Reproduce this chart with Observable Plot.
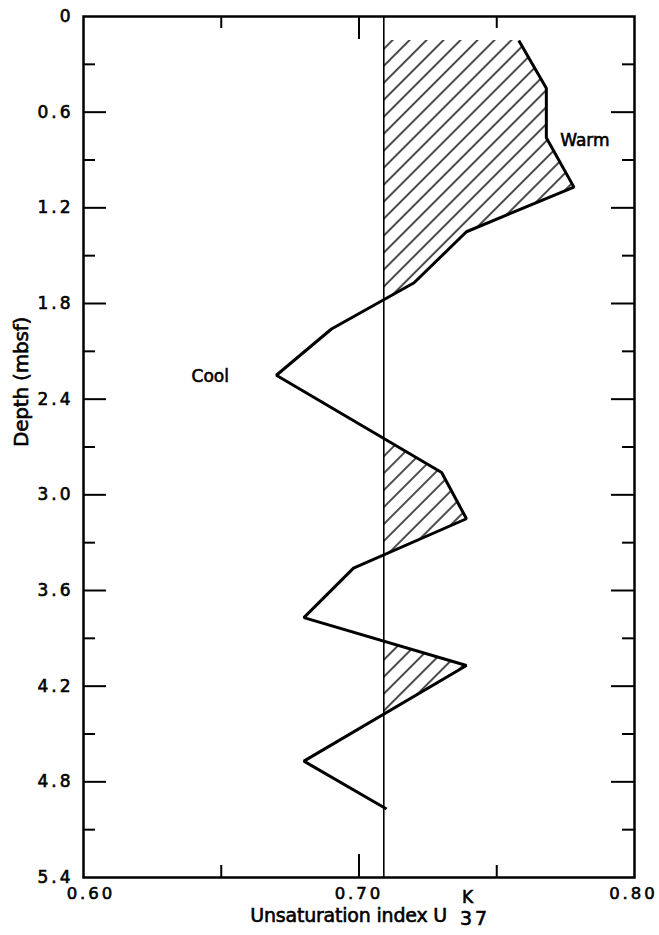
<!DOCTYPE html>
<html>
<head>
<meta charset="utf-8">
<script src="https://cdn.jsdelivr.net/npm/d3@7"></script>
<script src="https://cdn.jsdelivr.net/npm/@observablehq/plot@0.6"></script>
<style>
  html, body { margin: 0; padding: 0; background: #fff; }
  #chart svg { display: block; }
  #chart svg text { stroke: #000; stroke-width: 0.6px; }
</style>
</head>
<body>
<div id="chart"></div>
<script>
// ---- data ----
const depth = [0.15, 0.45, 0.76, 1.07, 1.35, 1.67, 1.96, 2.25, 2.86, 3.15, 3.46, 3.77, 4.07, 4.67, 4.97];
const uk37  = [0.758, 0.768, 0.768, 0.778, 0.739, 0.720, 0.690, 0.670, 0.730, 0.739, 0.698, 0.680, 0.739, 0.680, 0.710];
const referenceU = [0.709];
const xLabels = [0.60, 0.70, 0.80];
const xTicksMajor = [0.70];
const xTicksMinor = [0.65, 0.75];
const yLabels = [0, 0.6, 1.2, 1.8, 2.4, 3.0, 3.6, 4.2, 4.8, 5.4];
const yTicksMajor = [0.6, 1.2, 1.8, 2.4, 3.0, 3.6, 4.2, 4.8];
const yTicksMinor = [0.3, 0.9, 1.5, 2.1, 2.7, 3.3, 3.9, 4.5, 5.1];
const noteText = ["Warm", "Cool"];
const noteU = [0.782, 0.646];
const noteDepth = [0.78, 2.26];
const xTitle = "Unsaturation index U";
const xTitleSup = "K";
const xTitleSub = "37";
const yTitle = "Depth (mbsf)";

// ---- layout ----
const W = 659, H = 935;
const mL = 83, mR = 25, mT = 16, mB = 58;
const FW = W - mL - mR, FH = H - mT - mB;
const MAJ = 23, MIN = 12;

// ---- derived tables ----
const ref = referenceU[0];
const profile = depth.map((d, i) => ({depth: d, u: uk37[i]}));
// add the exact crossings of the reference so the warm fill ends on the line
const warm = [];
for (let i = 0; i < profile.length; i++) {
  const a = profile[i], b = profile[i + 1];
  warm.push(a);
  if (b && (a.u - ref) * (b.u - ref) < 0) {
    const t = (ref - a.u) / (b.u - a.u);
    warm.push({depth: a.depth + t * (b.depth - a.depth), u: ref});
  }
}
const notes = noteText.map((t, i) => ({text: t, u: noteU[i], depth: noteDepth[i]}));
const fmtY = d => d === 0 ? "0" : d.toFixed(1);
const fmtX = d => d.toFixed(2);

const svg = Plot.plot({
  width: W, height: H,
  marginLeft: mL, marginRight: mR, marginTop: mT, marginBottom: mB,
  style: {fontFamily: "DejaVu Sans", fontSize: "17px", background: "white", color: "black"},
  x: {domain: [0.60, 0.80]},
  y: {domain: [0, 5.4], reverse: true},
  marks: [
    Plot.areaX(warm, {y: "depth", x1: () => ref, x2: d => Math.max(d.u, ref), fill: "url(#hatch)", stroke: "none"}),
    Plot.ruleX(referenceU, {x: d => d, stroke: "black", strokeWidth: 1.6}),
    // inward ticks: top / bottom
    Plot.tickX(xTicksMinor, {x: d => d, insetBottom: FH - MIN, strokeWidth: 2}),
    Plot.tickX(xTicksMinor, {x: d => d, insetTop: FH - MIN, strokeWidth: 2}),
    Plot.tickX(xTicksMajor, {x: d => d, insetBottom: FH - MAJ, strokeWidth: 2}),
    Plot.tickX(xTicksMajor, {x: d => d, insetTop: FH - MAJ, strokeWidth: 2}),
    // inward ticks: left / right
    Plot.tickY(yTicksMinor, {y: d => d, insetRight: FW - MIN, strokeWidth: 2}),
    Plot.tickY(yTicksMinor, {y: d => d, insetLeft: FW - MIN, strokeWidth: 2}),
    Plot.tickY(yTicksMajor, {y: d => d, insetRight: FW - MAJ, strokeWidth: 2}),
    Plot.tickY(yTicksMajor, {y: d => d, insetLeft: FW - MAJ, strokeWidth: 2}),
    Plot.frame({stroke: "black", strokeWidth: 2.5}),
    Plot.line(profile, {x: "u", y: "depth", stroke: "black", strokeWidth: 3, strokeLinejoin: "miter", strokeLinecap: "butt"}),
    // tick labels
    Plot.axisY(yLabels, {anchor: "left", tickSize: 0, tickPadding: 10, tickFormat: fmtY, fontSize: 17, label: null}),
    Plot.axisX(xLabels.slice(0, 1), {anchor: "bottom", tickSize: 0, tickPadding: 10, tickFormat: fmtX, dx: 7.5, fontSize: 16.5, label: null}),
    Plot.axisX(xLabels.slice(1, 2), {anchor: "bottom", tickSize: 0, tickPadding: 10, tickFormat: fmtX, dx: 0, fontSize: 16.5, label: null}),
    Plot.axisX(xLabels.slice(2), {anchor: "bottom", tickSize: 0, tickPadding: 10, tickFormat: fmtX, dx: -1, fontSize: 16.5, label: null}),
    // annotations
    Plot.text(notes, {x: "u", y: "depth", text: "text", fontSize: 17}),
    // axis titles
    Plot.text([xTitle], {text: d => d, frameAnchor: "bottom", textAnchor: "end", dx: 88, dy: 44, fontSize: 19}),
    Plot.text([xTitleSup], {text: d => d, frameAnchor: "bottom", textAnchor: "start", dx: 103, dy: 25, fontSize: 17}),
    Plot.text([xTitleSub], {text: d => d, frameAnchor: "bottom", textAnchor: "start", dx: 101, dy: 47, fontSize: 19}),
    Plot.text([yTitle], {text: d => d, frameAnchor: "left", rotate: -90, dx: -62, fontSize: 20})
  ]
});

d3.select(svg).insert("defs", ":first-child").html(
  '<pattern id="hatch" patternUnits="userSpaceOnUse" width="12" height="12" patternTransform="rotate(45)">' +
  '<line x1="6" y1="-2" x2="6" y2="14" stroke="black" stroke-width="1.4"/></pattern>'
);
// letter spacing: wide digits, slightly tight titles (as in the lettering of the original)
d3.select(svg).selectAll("text").each(function () {
  const t = this.textContent;
  if (/^[0-9.]+$/.test(t)) this.setAttribute("letter-spacing", "3px");
  else if (t === xTitle || t === yTitle) this.setAttribute("letter-spacing", "-0.2px");
});

document.getElementById("chart").appendChild(svg);
</script>
</body>
</html>
